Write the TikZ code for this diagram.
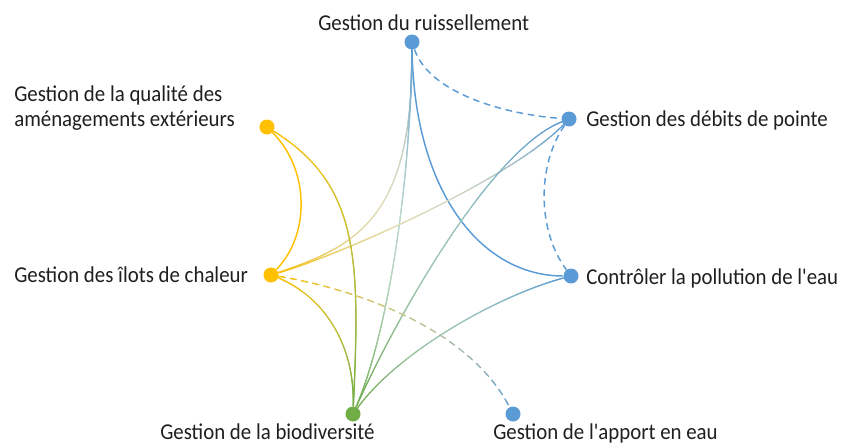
\documentclass[tikz,border=0pt]{standalone}
\usepackage{fontspec}
\setmainfont{Carlito}[FakeStretch=0.92, Ligatures=TeXOff]
\usetikzlibrary{decorations.markings}
\definecolor{cblue}{HTML}{5B9BD5}
\definecolor{cyel}{HTML}{FFC000}
\definecolor{cgreen}{HTML}{70AD47}
\tikzset{
  dot/.style={circle, inner sep=0pt, minimum size=11.25pt, fill=#1},
  lbl/.style={font=\fontsize{17}{18.75}\selectfont, inner sep=0pt, text=black!88, anchor=base west, align=left},
  plainln/.style={draw=#1, line width=1.1pt},
  dashln/.style={draw=#1, line width=1.1pt, dash pattern=on 5pt off 3.5pt},
  gradln/.style n args={3}{postaction={decorate}, decoration={markings,
    mark=between positions 0 and 1 step 0.3pt with {%
      \pgfmathsetmacro\gpc{min(100,(\pgfkeysvalueof{/pgf/decoration/mark info/distance from start})/(\pgfdecoratedpathlength)*100)}%
      \pgfmathsetmacro\gwh{100-#3*sin(1.8*\gpc)}%
      \fill[#2!\gpc!#1!\gwh!white] (0,0) circle (0.55pt);}}},
  gradash/.style n args={3}{postaction={decorate}, decoration={markings,
    mark=between positions 0 and 1 step 0.3pt with {%
      \pgfmathsetmacro\gds{mod(\pgfkeysvalueof{/pgf/decoration/mark info/distance from start},8.5)}%
      \ifdim\gds pt<5pt
      \pgfmathsetmacro\gpc{min(100,(\pgfkeysvalueof{/pgf/decoration/mark info/distance from start})/(\pgfdecoratedpathlength)*100)}%
      \pgfmathsetmacro\gwh{100-#3*sin(1.8*\gpc)}%
      \fill[#2!\gpc!#1!\gwh!white] (0,0) circle (0.55pt);\fi}}},
}
\begin{document}
\begin{tikzpicture}[x=0.75pt,y=0.75pt]
\useasboundingbox (0,0) rectangle (843,444);
% nodes
\node[dot=cblue]  (nR) at (412,402) {};
\node[dot=cblue]  (nD) at (569,325) {};
\node[dot=cblue]  (nP) at (571,168) {};
\node[dot=cblue]  (nA) at (513,30) {};
\node[dot=cgreen] (nB) at (353,30) {};
\node[dot=cyel]   (nC) at (271,169) {};
\node[dot=cyel]   (nQ) at (267,317) {};
% labels
\node[lbl] (tR) at (318,413) {Gestion du ruissellement};
\node[lbl] (tD) at (586,318) {Gestion des débits de pointe};
\node[lbl] (tP) at (586,160) {Contrôler la pollution de l'eau};
\node[lbl] (tQ) at (14,318) {Gestion de la qualité des\\aménagements extérieurs};
\node[lbl] (tC) at (14,162) {Gestion des îlots de chaleur};
\node[lbl] (tB) at (160,5) {Gestion de la biodiversité};
\node[lbl] (tA) at (493,5) {Gestion de l'apport en eau};
% connectors
\path[dashln=cblue] (nR) .. controls (430,349) and (510,329) .. (nD);
\path[dashln=cblue] (nD) .. controls (537,279) and (537,214) .. (nP);
\path[plainln=cblue] (nR) .. controls (414,254) and (480,168) .. (nP);
\path[plainln=cyel] (nQ) .. controls (310,274) and (310,209) .. (nC);
\path[gradln={cblue}{cyel}{55}] (nR) .. controls (413,229) and (360,199) .. (nC);
\path[gradln={cblue}{cgreen}{55}] (nR) .. controls (410,244) and (385,104) .. (nB);
\path[gradln={cblue}{cyel}{55}] (nD) .. controls (510,264) and (340,189) .. (nC);
\path[gradln={cblue}{cgreen}{35}] (nD) .. controls (490,294) and (395,124) .. (nB);
\path[gradln={cblue}{cgreen}{35}] (nP) .. controls (500,149) and (400,94) .. (nB);
\path[gradln={cyel}{cgreen}{10}] (nQ) .. controls (360,259) and (360,184) .. (nB);
\path[gradln={cyel}{cgreen}{10}] (nC) .. controls (320,149) and (355,104) .. (nB);
\path[gradash={cyel}{cblue}{25}] (nC) .. controls (360,154) and (470,114) .. (nA);
\end{tikzpicture}
\end{document}
